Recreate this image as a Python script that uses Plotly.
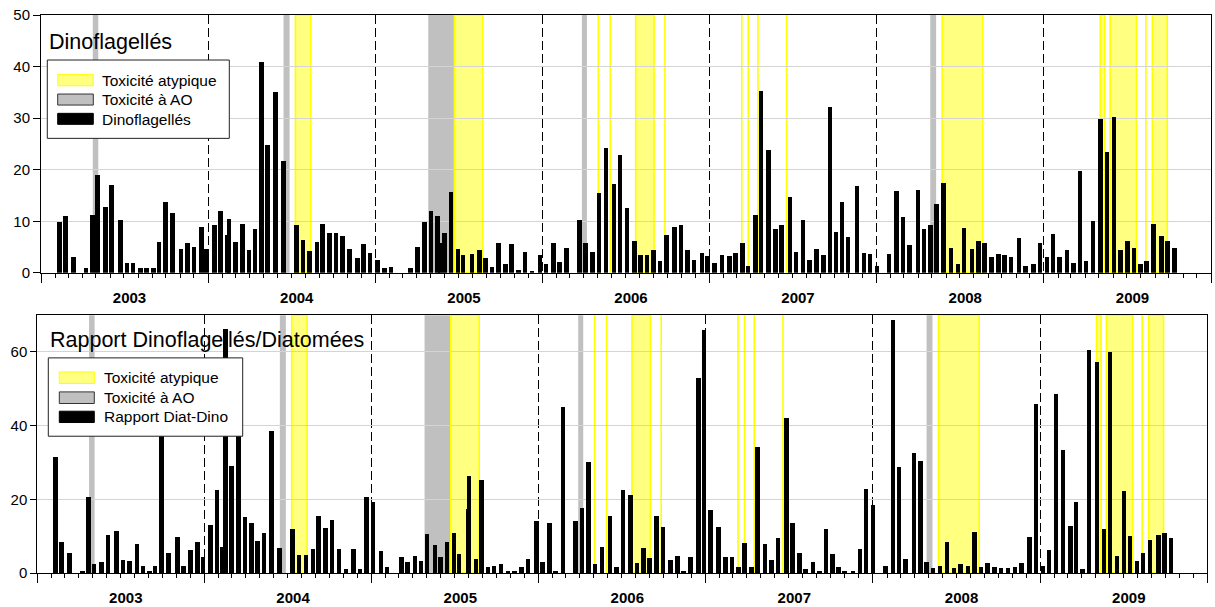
import pandas as pd
import plotly.graph_objects as go

# ---------------- data (dates as decimal years) ----------------
dino_dates = [
    2003.112, 2003.148, 2003.193, 2003.269, 2003.309, 2003.339, 2003.385, 2003.421, 2003.475, 2003.515,
    2003.550, 2003.596, 2003.632, 2003.672, 2003.706, 2003.744, 2003.786, 2003.838, 2003.878, 2003.917,
    2003.961, 2003.991, 2004.037, 2004.075, 2004.117, 2004.125, 2004.165, 2004.205, 2004.245, 2004.280,
    2004.320, 2004.354, 2004.402, 2004.452, 2004.528, 2004.566, 2004.605, 2004.651, 2004.685, 2004.725,
    2004.765, 2004.803, 2004.845, 2004.893, 2004.929, 2004.968, 2005.012, 2005.054, 2005.092, 2005.208,
    2005.252, 2005.293, 2005.332, 2005.371, 2005.387, 2005.413, 2005.451, 2005.493, 2005.523, 2005.579,
    2005.622, 2005.658, 2005.698, 2005.736, 2005.778, 2005.816, 2005.858, 2005.896, 2005.936, 2005.986,
    2006.021, 2006.065, 2006.101, 2006.145, 2006.221, 2006.259, 2006.299, 2006.339, 2006.379, 2006.427,
    2006.464, 2006.506, 2006.550, 2006.586, 2006.626, 2006.663, 2006.704, 2006.744, 2006.789, 2006.829,
    2006.867, 2006.907, 2006.955, 2006.987, 2007.031, 2007.076, 2007.118, 2007.156, 2007.196, 2007.230,
    2007.274, 2007.308, 2007.354, 2007.396, 2007.432, 2007.483, 2007.519, 2007.561, 2007.597, 2007.639,
    2007.681, 2007.722, 2007.757, 2007.794, 2007.830, 2007.884, 2007.926, 2007.960, 2008.004, 2008.075,
    2008.120, 2008.157, 2008.197, 2008.247, 2008.283, 2008.321, 2008.359, 2008.401, 2008.445, 2008.486,
    2008.522, 2008.570, 2008.608, 2008.646, 2008.686, 2008.728, 2008.763, 2008.804, 2008.850, 2008.889,
    2008.937, 2008.975, 2009.017, 2009.055, 2009.093, 2009.137, 2009.176, 2009.216, 2009.252, 2009.294,
    2009.340, 2009.378, 2009.418, 2009.457, 2009.499, 2009.538, 2009.577, 2009.615, 2009.657, 2009.705,
    2009.741, 2009.781,
]
dino_values = [
    9.9, 11.1, 3.1, 0.85, 11.3, 19.0, 12.8, 17.1, 10.3, 1.9,
    2.0, 0.9, 1.0, 0.85, 6.0, 13.8, 11.6, 4.7, 5.8, 5.0,
    8.9, 4.6, 9.2, 12.0, 7.3, 10.4, 6.0, 9.4, 4.4, 8.5,
    40.9, 24.7, 35.1, 21.6, 9.3, 6.4, 4.2, 6.0, 9.5, 7.7,
    7.7, 7.1, 4.7, 2.9, 5.6, 3.8, 2.5, 0.85, 1.1, 0.85,
    5.0, 9.9, 12.0, 11.1, 5.7, 7.8, 15.6, 4.7, 3.4, 3.6,
    4.5, 2.9, 1.1, 5.8, 1.7, 5.5, 0.5, 4.1, 0.4, 3.4,
    1.7, 5.7, 2.1, 4.9, 10.2, 5.7, 4.0, 15.5, 24.3, 17.2,
    22.8, 12.6, 6.2, 3.4, 3.4, 4.4, 2.3, 7.3, 8.9, 9.3,
    4.4, 2.5, 3.8, 3.2, 2.0, 3.4, 3.2, 3.8, 5.7, 1.4,
    11.2, 35.3, 23.8, 8.5, 9.2, 14.7, 4.1, 10.3, 2.5, 4.7,
    3.4, 32.1, 7.9, 13.7, 6.9, 16.9, 3.8, 3.6, 1.4, 3.6,
    15.8, 10.9, 5.4, 16.0, 8.5, 9.3, 13.3, 17.5, 4.8, 1.8,
    8.7, 4.6, 6.1, 5.8, 3.1, 3.6, 3.5, 3.0, 6.7, 1.3,
    1.7, 5.7, 3.0, 7.6, 3.0, 4.5, 2.0, 19.8, 2.2, 10.0,
    29.9, 23.5, 30.2, 4.4, 6.1, 4.9, 1.7, 2.3, 9.4, 7.1,
    6.1, 4.9,
]

ratio_dates = [
    2003.112, 2003.148, 2003.194, 2003.272, 2003.309, 2003.341, 2003.387, 2003.425, 2003.475, 2003.515,
    2003.555, 2003.598, 2003.634, 2003.674, 2003.706, 2003.746, 2003.788, 2003.840, 2003.878, 2003.920,
    2003.962, 2003.993, 2004.038, 2004.077, 2004.111, 2004.127, 2004.165, 2004.205, 2004.245, 2004.283,
    2004.320, 2004.358, 2004.402, 2004.452, 2004.530, 2004.568, 2004.608, 2004.651, 2004.684, 2004.725,
    2004.765, 2004.805, 2004.849, 2004.891, 2004.931, 2004.971, 2005.010, 2005.056, 2005.094, 2005.180,
    2005.214, 2005.260, 2005.296, 2005.333, 2005.381, 2005.414, 2005.453, 2005.495, 2005.525, 2005.579,
    2005.585, 2005.625, 2005.659, 2005.698, 2005.734, 2005.776, 2005.818, 2005.858, 2005.898, 2005.938,
    2005.988, 2006.024, 2006.067, 2006.103, 2006.147, 2006.223, 2006.261, 2006.299, 2006.339, 2006.380,
    2006.427, 2006.467, 2006.506, 2006.550, 2006.590, 2006.628, 2006.666, 2006.706, 2006.745, 2006.792,
    2006.832, 2006.869, 2006.909, 2006.957, 2006.991, 2007.031, 2007.079, 2007.121, 2007.158, 2007.198,
    2007.234, 2007.274, 2007.312, 2007.356, 2007.396, 2007.433, 2007.484, 2007.521, 2007.563, 2007.599,
    2007.643, 2007.683, 2007.721, 2007.759, 2007.797, 2007.833, 2007.882, 2007.926, 2007.962, 2008.004,
    2008.078, 2008.122, 2008.157, 2008.197, 2008.247, 2008.285, 2008.323, 2008.361, 2008.403, 2008.445,
    2008.486, 2008.525, 2008.570, 2008.609, 2008.648, 2008.686, 2008.728, 2008.766, 2008.808, 2008.851,
    2008.890, 2008.939, 2008.977, 2009.017, 2009.055, 2009.095, 2009.139, 2009.181, 2009.216, 2009.255,
    2009.294, 2009.342, 2009.382, 2009.420, 2009.462, 2009.502, 2009.539, 2009.581, 2009.617, 2009.659,
    2009.709, 2009.745, 2009.785,
]
ratio_values = [
    31.5, 8.5, 5.4, 0.6, 20.6, 2.3, 3.0, 10.4, 11.3, 3.4,
    3.2, 7.8, 1.8, 0.5, 1.9, 45.0, 5.5, 9.7, 1.9, 6.1,
    8.5, 4.4, 13.1, 22.4, 7.0, 66.1, 28.9, 42.0, 15.1, 13.5,
    8.7, 10.8, 38.4, 6.7, 11.9, 4.8, 4.8, 6.5, 15.3, 12.2,
    14.3, 6.5, 1.1, 6.5, 1.1, 20.6, 19.3, 5.9, 1.7, 4.4,
    2.9, 4.5, 3.1, 10.5, 7.6, 4.4, 8.3, 10.9, 5.2, 17.4,
    26.2, 3.8, 25.3, 1.5, 1.9, 2.3, 0.45, 0.45, 1.7, 3.7,
    14.1, 3.0, 13.4, 0.6, 45.0, 14.2, 17.6, 30.0, 2.4, 7.1,
    15.5, 1.5, 22.6, 21.1, 2.8, 6.7, 3.9, 15.5, 12.4, 3.6,
    4.6, 0.6, 4.2, 53.0, 65.9, 17.1, 12.4, 4.3, 4.3, 1.5,
    8.0, 1.5, 34.1, 7.7, 3.4, 9.5, 42.0, 13.4, 5.4, 1.0,
    2.9, 0.4, 12.0, 5.2, 1.5, 0.45, 0.6, 6.5, 22.8, 18.4,
    1.8, 68.7, 28.7, 3.7, 32.5, 30.3, 3.0, 1.4, 1.9, 8.4,
    1.4, 2.4, 1.9, 11.1, 1.5, 2.7, 1.5, 1.3, 1.3, 1.5,
    2.8, 9.8, 45.8, 1.9, 6.2, 48.5, 33.4, 12.7, 19.1, 1.1,
    60.6, 57.3, 11.9, 60.0, 4.5, 22.1, 10.0, 3.2, 5.5, 8.9,
    10.3, 10.9, 9.5,
]

# toxicity periods (decimal years; start == end for single-day events)
atypical_start = [2004.522, 2005.473, 2006.334, 2006.406, 2006.558, 2006.733, 2007.193, 2007.232,
                  2007.290, 2007.462, 2008.392, 2009.337, 2009.396, 2009.610, 2009.649]
atypical_end = [2004.614, 2005.643, 2006.334, 2006.406, 2006.668, 2006.733, 2007.193, 2007.232,
                2007.290, 2007.462, 2008.635, 2009.364, 2009.554, 2009.610, 2009.738]
ao_start = [2003.310, 2004.451, 2005.316, 2006.236, 2008.321]
ao_end = [2003.343, 2004.487, 2005.473, 2006.266, 2008.356]

year_labels = ["2003", "2004", "2005", "2006", "2007", "2008", "2009"]


def dec2date(y):
    yr = int(y)
    s = pd.Timestamp(yr, 1, 1)
    e = pd.Timestamp(yr + 1, 1, 1)
    return s + (e - s) * (y - yr)


# ---------------- geometry ----------------
W, H = 1215, 607
ML, MR, MT, MB = 37, 4, 15, 34.3
PW, PH = W - ML - MR, H - MT - MB


def pxx(p):
    return (p - ML) / PW


def pxy(p):
    return 1 - (p - MT) / PH


FONT = "Liberation Sans, Arial, sans-serif"
YEL_FILL, YEL_LINE, GRAY = "#FFFF80", "#FFFF00", "#C0C0C0"
BAR_W = 10 * 86400000  # bar width in ms

fig = go.Figure()
fig.add_trace(go.Bar(x=[dec2date(d) for d in dino_dates], y=dino_values, width=BAR_W,
                     marker=dict(color="black", line=dict(width=0)), xaxis="x", yaxis="y",
                     name="Dinoflagellés"))
fig.add_trace(go.Bar(x=[dec2date(d) for d in ratio_dates], y=ratio_values, width=BAR_W,
                     marker=dict(color="black", line=dict(width=0)), xaxis="x2", yaxis="y2",
                     name="Rapport Diat-Dino"))

shapes = []
for xr, yr in (("x", "y domain"), ("x2", "y2 domain")):
    for s, e in zip(ao_start, ao_end):
        shapes.append(dict(type="rect", xref=xr, yref=yr, x0=dec2date(s), x1=dec2date(e), y0=0, y1=1,
                           fillcolor=GRAY, line=dict(width=0), layer="below"))
    for s, e in zip(atypical_start, atypical_end):
        shapes.append(dict(type="rect", xref=xr, yref=yr, x0=dec2date(s), x1=dec2date(e), y0=0, y1=1,
                           fillcolor=YEL_FILL, line=dict(width=1.6, color=YEL_LINE), layer="below"))

annotations = []


def add_legend(box, rows, title, title_xy):
    x0, x1, y0, y1 = box
    shapes.append(dict(type="rect", xref="paper", yref="paper", x0=pxx(x0), x1=pxx(x1),
                       y0=pxy(y1), y1=pxy(y0), fillcolor="white",
                       line=dict(color="#222222", width=1), layer="above"))
    for (sx0, sx1, sy0, sy1, fill, lc, txt, tx, ty) in rows:
        shapes.append(dict(type="rect", xref="paper", yref="paper", x0=pxx(sx0), x1=pxx(sx1),
                           y0=pxy(sy1), y1=pxy(sy0), fillcolor=fill,
                           line=dict(color=lc, width=1), layer="above"))
        annotations.append(dict(text=txt, xref="paper", yref="paper", x=pxx(tx), y=pxy(ty),
                                xanchor="left", yanchor="middle", showarrow=False,
                                font=dict(family=FONT, size=15.5, color="black")))
    annotations.append(dict(text=title, xref="paper", yref="paper", x=pxx(title_xy[0]), y=pxy(title_xy[1]),
                            xanchor="left", yanchor="middle", showarrow=False,
                            font=dict(family=FONT, size=21.5, color="black")))


add_legend((47.3, 229.3, 60, 138.3), [
    (57.7, 93.3, 74.3, 85.7, YEL_FILL, YEL_LINE, "Toxicité atypique", 100, 80),
    (57.7, 93.3, 94, 105, GRAY, "#333333", "Toxicité à AO", 100, 99.5),
    (57.7, 93.3, 113.3, 124.3, "black", "black", "Dinoflagellés", 100, 119),
], "Dinoflagellés", (47, 42))

add_legend((48.3, 242.7, 357.7, 436), [
    (59.3, 94.3, 371.7, 383.3, YEL_FILL, YEL_LINE, "Toxicité atypique", 102, 377.7),
    (59.3, 94.3, 391.7, 403.3, GRAY, "#333333", "Toxicité à AO", 102, 397),
    (59.3, 94.3, 411, 422.3, "black", "black", "Rapport Diat-Dino", 102, 416.5),
], "Rapport Dinoflagellés/Diatomées", (48, 340))


def xaxis_cfg(domain, anchor):
    return dict(domain=domain, anchor=anchor, type="date", automargin=False,
                range=["2003-01-01", "2010-01-01"], tick0="2003-01-01", dtick="M12",
                tickformat="%Y", ticklabelmode="period", ticklabelshift=5, ticklabelstandoff=2,
                ticks="outside", ticklen=9, tickcolor="black", tickwidth=1,
                showline=True, linecolor="black", linewidth=1, mirror=True,
                showgrid=True, gridcolor="black", griddash="9px,4px", gridwidth=1,
                minor=dict(dtick="M1", tick0="2003-01-01", ticks="outside", ticklen=4,
                           tickcolor="black", showgrid=False),
                tickfont=dict(family=FONT, size=15, color="black", weight="bold"))


def yaxis_cfg(domain, anchor, rng, dtick, ticklen):
    return dict(domain=domain, anchor=anchor, range=rng, dtick=dtick, ticks="outside",
                automargin=False,
                ticklen=ticklen, tickcolor="black", showline=True, linecolor="black",
                linewidth=1, mirror=True, showgrid=True, gridcolor="#d4d4d4", gridwidth=1,
                zeroline=False, tickfont=dict(family=FONT, size=15, color="black"))


fig.update_layout(
    width=W, height=H, margin=dict(l=ML, r=MR, t=MT, b=MB, autoexpand=False),
    paper_bgcolor="white", plot_bgcolor="white", showlegend=False,
    barmode="overlay", bargap=0,
    xaxis=xaxis_cfg([pxx(41), pxx(1211)], "y"),
    yaxis=yaxis_cfg([pxy(272.7), 1], "x", [0, 50], 10, 7),
    xaxis2=xaxis_cfg([pxx(37.3), pxx(1207.3)], "y2"),
    yaxis2=yaxis_cfg([0, pxy(315)], "x2", [0, 70], 20, 6),
    shapes=shapes, annotations=annotations,
    font=dict(family=FONT, color="black"),
)

fig.write_html("out.html")
